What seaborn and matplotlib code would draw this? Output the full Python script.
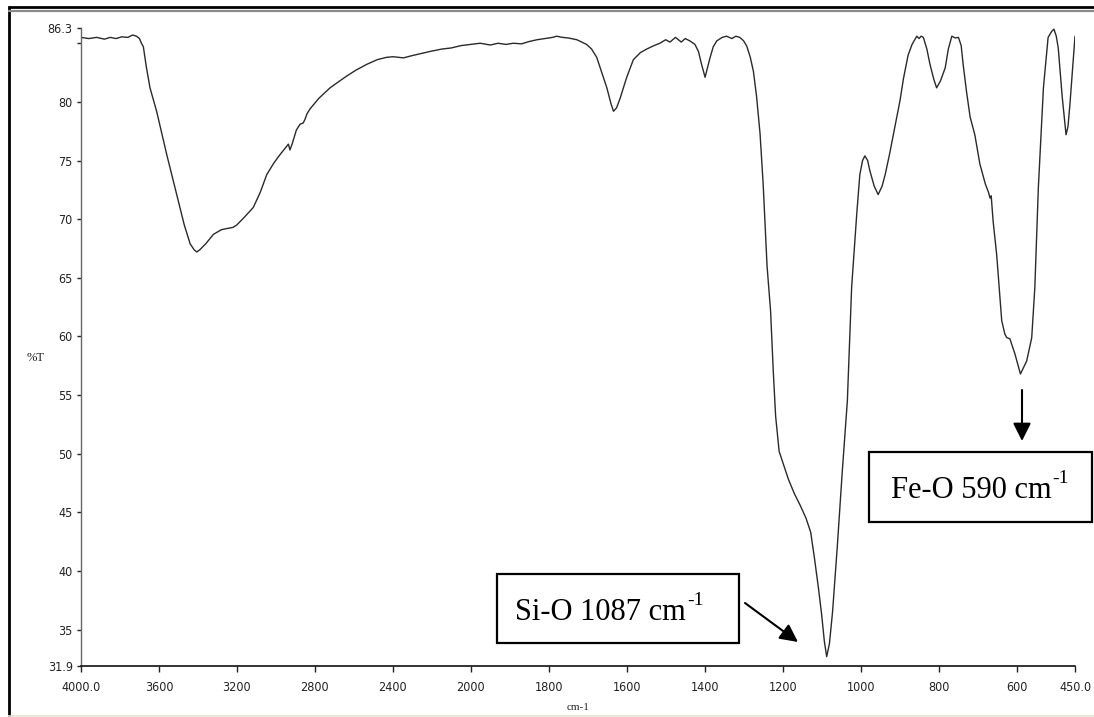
import numpy as np
import matplotlib
matplotlib.use("Agg")
import matplotlib.pyplot as plt
from matplotlib.lines import Line2D
from matplotlib.patches import Rectangle
import seaborn as sns

# FTIR spectrum: wavenumber (cm-1) and transmittance (%T)
wavenumber = [
    4000, 3960, 3920, 3880, 3850, 3820, 3790, 3760, 3735, 3715, 3700, 3690,
    3680, 3665, 3646, 3612, 3560, 3509, 3470, 3440, 3420, 3406, 3390, 3360,
    3321, 3280, 3252, 3220, 3201, 3160, 3116, 3080, 3047, 3010, 2979, 2950,
    2936, 2928, 2915, 2895, 2876, 2860, 2851, 2840, 2825, 2780, 2722, 2680,
    2637, 2590, 2534, 2480, 2432, 2400, 2370, 2346, 2300, 2260, 2209, 2150,
    2100, 2050, 2000, 1976, 1950, 1930, 1910, 1891, 1870, 1850, 1830, 1810,
    1790, 1780, 1765, 1750, 1728, 1703, 1690, 1677, 1665, 1651, 1640, 1634,
    1626, 1617, 1600, 1583, 1565, 1549, 1530, 1515, 1500, 1489, 1475, 1460,
    1450, 1438, 1425, 1416, 1408, 1399, 1392, 1386, 1378, 1369, 1355, 1344,
    1330, 1320, 1310, 1300, 1292, 1283, 1275, 1267, 1258, 1250, 1240, 1231,
    1224, 1218, 1209, 1200, 1185, 1170, 1155, 1140, 1128, 1118, 1108, 1100,
    1093, 1087, 1080, 1072, 1060, 1047, 1034, 1023, 1010, 1002, 995, 989,
    982, 976, 965, 955, 945, 937, 926, 916, 899, 890, 878, 868,
    856, 850, 845, 839, 830, 822, 812, 805, 795, 783, 775, 766,
    757, 749, 742, 737, 728, 719, 707, 694, 680, 672, 668, 665,
    660, 651, 638, 630, 625, 617, 604, 590, 574, 561, 553, 544,
    531, 519, 510, 504, 498, 493, 483, 473, 468, 463, 450,
]
transmittance = [
    85.5, 85.4, 85.5, 85.35, 85.5, 85.4, 85.55, 85.5, 85.7, 85.6, 85.4, 85.0,
    84.7, 83.0, 81.2, 79.2, 75.5, 72.1, 69.5, 67.9, 67.4, 67.2, 67.4, 67.9,
    68.7, 69.1, 69.2, 69.3, 69.5, 70.2, 71.0, 72.3, 73.8, 74.8, 75.5, 76.1,
    76.4, 75.9, 76.5, 77.6, 78.1, 78.2, 78.5, 79.0, 79.4, 80.3, 81.2, 81.7,
    82.2, 82.7, 83.2, 83.6, 83.8, 83.85, 83.8, 83.75, 83.95, 84.1, 84.3, 84.5,
    84.6, 84.8, 84.9, 85.0, 84.85, 85.0, 84.9, 85.0, 84.95, 85.15, 85.3, 85.4,
    85.5, 85.6, 85.5, 85.45, 85.3, 84.9, 84.5, 83.8, 82.6, 81.2, 79.8, 79.2,
    79.5, 80.3, 82.1, 83.6, 84.2, 84.5, 84.8, 85.0, 85.3, 85.1, 85.5, 85.1,
    85.4, 85.2, 84.9, 84.3, 83.2, 82.1, 83.0, 83.8, 84.7, 85.2, 85.5, 85.6,
    85.4, 85.6, 85.5, 85.2, 84.75, 83.8, 82.6, 80.5, 77.3, 73.0, 66.0, 62.2,
    57.0, 53.2, 50.2, 49.3, 47.8, 46.6, 45.6, 44.5, 43.3, 41.0, 38.5, 36.3,
    34.0, 32.7, 33.8, 36.5, 42.0, 48.5, 54.5, 64.2, 70.4, 73.8, 75.0, 75.4,
    75.0, 74.1, 72.8, 72.1, 72.8, 73.8, 75.5, 77.2, 80.1, 82.0, 84.0, 84.9,
    85.6, 85.4, 85.6, 85.5, 84.5, 83.2, 81.9, 81.2, 81.8, 82.9, 84.5, 85.6,
    85.45, 85.5, 84.8, 83.2, 80.8, 78.7, 77.2, 74.7, 73.0, 72.3, 71.8, 72.0,
    69.8, 67.0, 61.35, 60.2, 59.9, 59.8, 58.5, 56.8, 57.9, 59.9, 64.2, 72.7,
    81.2, 85.5, 86.0, 86.2, 85.6, 84.6, 80.5, 77.2, 77.9, 79.8, 85.6,
]

xtick_values = [4000, 3600, 3200, 2800, 2400, 2000, 1800, 1600, 1400, 1200,
                1000, 800, 600, 450]
xtick_labels = ["4000.0", "3600", "3200", "2800", "2400", "2000", "1800",
                "1600", "1400", "1200", "1000", "800", "600", "450.0"]
ytick_values = [31.9, 35, 40, 45, 50, 55, 60, 65, 70, 75, 80, 85, 86.3]
ytick_labels = ["31.9", "35", "40", "45", "50", "55", "60", "65", "70", "75",
                "80", "", "86.3"]

sns.set_theme(style="white")
plt.rcParams["font.family"] = ["DejaVu Sans"]
plt.rcParams["font.stretch"] = "condensed"

W, H = 1094, 717
fig = plt.figure(figsize=(W / 100, H / 100), dpi=100)
ax = fig.add_axes([81 / W, 1 - 666 / H, (1075 - 81) / W, (666 - 28) / H])


# Wavenumber axis is compressed 2:1 above 2000 cm-1
def fwd(w):
    w = np.asarray(w, dtype=float)
    return np.where(w >= 2000, 1000 + (w - 2000) / 2.0, w - 1000)


def inv(p):
    p = np.asarray(p, dtype=float)
    return np.where(p >= 1000, 2000 + 2.0 * (p - 1000), p + 1000)


ax.set_xscale("function", functions=(fwd, inv))

sns.lineplot(x=wavenumber, y=transmittance, sort=False, estimator=None,
             color="#2a2a2a", linewidth=1.0, ax=ax)

ax.set_xlim(4000, 450)
ax.set_ylim(31.9, 86.3)
ax.set_xticks(xtick_values)
ax.set_xticklabels(xtick_labels)
ax.set_yticks(ytick_values)
ax.set_yticklabels(ytick_labels)
ax.minorticks_off()
ax.tick_params(axis="x", direction="out", length=4, width=1, pad=7,
               labelsize=9, colors="#222222", bottom=True)
ax.tick_params(axis="y", direction="out", length=3, width=1, pad=3,
               labelsize=9, colors="#222222", left=True)
for lab in ax.get_xticklabels() + ax.get_yticklabels():
    lab.set_fontstretch("condensed")
for s in ("top", "right"):
    ax.spines[s].set_visible(False)
ax.spines["left"].set_color("#666666")
ax.spines["left"].set_linewidth(1.0)
ax.spines["bottom"].set_color("#111111")
ax.spines["bottom"].set_linewidth(1.2)
ax.set_xlabel("")
ax.set_ylabel("")
ax.grid(False)

serif = ["Liberation Serif", "DejaVu Serif"]
fig.text(36 / W, 1 - 358 / H, "%T", family=serif, fontsize=9,
         ha="center", va="center", color="#222222")
fig.text(578 / W, 1 - 708 / H, "cm-1", family=serif, fontsize=8,
         ha="center", va="center", color="#222222")

renderer = fig.canvas.get_renderer()


def box(x0, y0, x1, y1):
    fig.add_artist(Rectangle((x0 / W, 1 - y1 / H), (x1 - x0) / W,
                             (y1 - y0) / H, transform=fig.transFigure,
                             fill=True, facecolor="white", edgecolor="black",
                             linewidth=1.6, clip_on=False))


def label_with_superscript(x, y, main, sup):
    t = fig.text(x / W, 1 - y / H, main, family=serif, fontsize=22,
                 ha="left", va="baseline", color="black")
    bb = t.get_window_extent(renderer)
    fig.text((bb.x1 + 1) / W, (bb.y0 + 0.62 * (bb.y1 - bb.y0) + 4) / H, sup,
             family=serif, fontsize=14, ha="left", va="baseline", color="black")


# Band assignment boxes
box(497, 574, 739, 643)
label_with_superscript(515, 620, "Si-O 1087 cm", "-1")
box(869, 452, 1092, 522)
label_with_superscript(891, 498, "Fe-O 590 cm", "-1")

arrow_kw = dict(arrowstyle="-|>,head_length=0.9,head_width=0.45",
                color="black", lw=1.5, shrinkA=0, shrinkB=0)
ax.annotate("", xy=(798, H - 642), xycoords="figure pixels",
            xytext=(745, H - 603), textcoords="figure pixels",
            arrowprops=arrow_kw, annotation_clip=False)
ax.annotate("", xy=(1022, H - 441), xycoords="figure pixels",
            xytext=(1022, H - 390), textcoords="figure pixels",
            arrowprops=arrow_kw, annotation_clip=False)

# Window frame lines
fig.add_artist(Line2D([8.5 / W, 8.5 / W], [0, 1 - 6 / H], transform=fig.transFigure,
                      color="black", linewidth=2.0, solid_capstyle="butt"))
fig.add_artist(Line2D([8 / W, 1], [1 - 6.5 / H, 1 - 6.5 / H], transform=fig.transFigure,
                      color="black", linewidth=2.0, solid_capstyle="butt"))
fig.add_artist(Line2D([8 / W, 1], [1 - 10.5 / H, 1 - 10.5 / H], transform=fig.transFigure,
                      color="#8a8a8a", linewidth=1.6, solid_capstyle="butt"))
fig.add_artist(Line2D([8 / W, 1], [1 - 716 / H, 1 - 716 / H], transform=fig.transFigure,
                      color="#e6e2d4", linewidth=1.2, solid_capstyle="butt"))

fig.savefig("out.png", dpi=100, facecolor="white")
